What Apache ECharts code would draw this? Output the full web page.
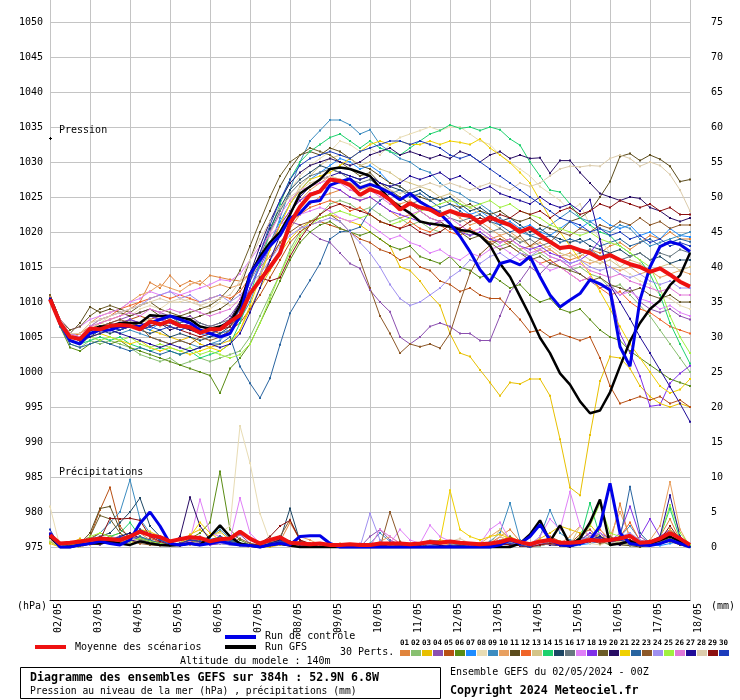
<!DOCTYPE html>
<html><head><meta charset="utf-8">
<script src="https://cdn.jsdelivr.net/npm/echarts/dist/echarts.min.js"></script>
<style>html,body{margin:0;padding:0;background:#fff}#c{width:740px;height:700px}</style>
</head><body><div id="c"></div>
<script>
const dates=['02/05','03/05','04/05','05/05','06/05','07/05','08/05','09/05','10/05','11/05','12/05','13/05','14/05','15/05','16/05','17/05','18/05'];
const hours=['00','06','12','18'];
const pertColors=['#e0843c','#88c070','#e8c000','#8c50b0','#b85014','#5a8c14','#1e8cff','#e8dcb4','#3c8cc0','#e8a060','#5c4c1c','#f06428','#d4c488','#1ed26e','#1c4664','#687880','#e080f8','#8030e8','#6c5c28','#280c64','#f0d000','#2864a0','#8c5828','#a090f0','#a0f040','#e078d8','#200c98','#dcccac','#8c1010','#1c3cbc'];

// Pressure (hPa), 6-hourly, 65 steps
const meanP=[1010.4,1007,1005,1004.7,1006.2,1006.1,1006.6,1006.7,1006.6,1006.1,1007.2,1006.8,1007.3,
1006.6,1006.4,1005.6,1006.1,1006.1,1007.2,1008.1,1011.2,1013.1,1015,1017,1021.2,1023.6,
1025.3,1025.8,1027.5,1027.3,1026.7,1025.3,1026.1,1025.6,1024.6,1023.2,1024.1,1023.5,1023.2,
1022.4,1023,1022.5,1022.3,1021.3,1022.1,1021.5,1021,1020,1020.6,1019.6,1018.6,1017.7,
1017.9,1017.4,1017,1016.2,1016.7,1016,1015.4,1015,1014.3,1014.8,1013.9,1012.9,1012.2];
const ctrlP=[1010.5,1007,1004.5,1004,1005.5,1006,1006,1006.5,1006.5,1006.5,1007,1007.5,1008,
1007.5,1007,1006,1005.5,1005,1005.5,1008,1014,1016,1018,1019.5,1022,1022.7,
1024.3,1024.5,1026.7,1027.2,1027.6,1026.3,1026.8,1026.3,1025.6,1024.6,1025.5,1024.3,1023.5,
1022.6,1021.2,1019.4,1017.2,1014.6,1012.9,1015.5,1015.9,1015.3,1016.5,1013.6,1011,1009.3,
1010.3,1011.2,1013.2,1012.6,1011.7,1003.6,1000.8,1010.3,1015,1017.9,1018.6,1018.2,1017.2];
const gfsP=[1010.5,1007,1005,1004.8,1006,1006.5,1006.5,1007,1007,1007,1008.1,1008,1008,
1007.8,1007.5,1006.5,1006.2,1006.5,1007,1009.5,1014,1016.5,1018.5,1020,1022.5,1025.5,
1026.5,1027.5,1029,1029.2,1029,1028.5,1028,1026.3,1024.6,1023.6,1022.7,1021.5,1021.2,
1021,1020.8,1020.3,1020.1,1019.5,1018.1,1015.5,1013.6,1010.8,1008,1004.9,1002.7,999.8,
998.2,995.8,994.1,994.5,997.1,1000.8,1004.4,1007,1009,1010.2,1012.4,1013.8,1017];

const P01=[1010.8,1007.5,1005.5,1004.5,1006,1007,1007.5,1008,1009,1010,1012.8,1012,1013.8,
1012.3,1013,1012.5,1013.8,1013.5,1013.2,1013,1014,1015,1016.5,1018.5,1020.5,1022.5,
1024,1025,1025.5,1026,1025,1024.5,1025,1024,1023,1022,1022.5,1021.5,1021,
1021.5,1020.5,1020,1020.5,1019.5,1019,1019.5,1018.5,1017.5,1018,1017,1017.5,1016.5,
1016,1016.5,1017.5,1017,1018,1018.5,1017.5,1018.5,1019.5,1019,1020,1019,1019];
const P02=[1010.5,1007,1004,1003.5,1004.5,1004,1004.5,1004,1003.5,1002.5,1002,1001.5,1002,
1001,1001.5,1002,1001.5,1002,1002.5,1003,1005,1008,1011,1014,1017.5,1020,
1021.5,1022.5,1024,1024.5,1024,1023,1023.5,1022.5,1021.5,1022,1021,1021.5,1020.5,
1020,1021,1020.5,1019.5,1020,1019,1018,1018.5,1017.5,1016.5,1017,1016,1015,
1014.5,1015,1014,1013.5,1012,1012.5,1011,1009.5,1008,1006,1004,1002,1000];
const P03=[1010.5,1007.5,1005,1004.5,1005.5,1006,1006.5,1006,1007,1006.5,1006,1005.5,1005,
1004.5,1005,1004,1003.5,1004,1004.5,1006,1009,1012,1014.5,1017,1019,1020.5,
1021.5,1022,1022.5,1022,1021.5,1021,1020,1019,1018,1015,1014.5,1013,1011,
1009.5,1005.5,1002.7,1002.2,1000.3,998.5,996.6,998.5,998.3,999,999,996.6,990.4,
983.5,982.4,991,998.7,1002.2,1002,1000.5,998,996.5,995.5,995,995.5,995];
const P04=[1010.5,1007,1005,1004.5,1006,1006.5,1007,1007.5,1008,1008.5,1009,1008.5,1008,
1007.5,1008,1007,1006.5,1007,1008,1010,1013,1015.5,1018,1020,1021.5,1021,
1020,1019,1018.5,1017,1015.5,1014.8,1011.7,1010,1008.6,1005,1004,1005,1006.5,
1007,1006.5,1005.5,1005.5,1004.5,1004.5,1008,1011.5,1013,1015,1014,1015.5,1016,
1015,1014,1013,1012,1012.5,1011,1012,1010,1009,1008.5,1009,1008,1007.5];
const P05=[1011,1007.5,1005.5,1005,1006,1006.5,1006,1007,1007.5,1008,1007.5,1008,1007,
1006.5,1006,1005.5,1006,1005.5,1006,1007,1009,1011,1013.5,1016,1018.5,1020,
1021,1021.5,1021,1020.5,1020,1019,1018.5,1017.5,1017,1016,1016.5,1015,1014.5,
1013,1012.5,1011.5,1012,1011,1010.5,1010.5,1009,1007.5,1005.7,1006,1005,1005.5,
1005,1004.5,1005,1002,998,995.5,996,996.5,996,996.5,995.5,996,995];
const P06=[1010.5,1006.5,1003.5,1003,1004,1004.5,1004,1004.5,1003.5,1003,1002.5,1002,1001.5,
1001,1000.5,1000,999.5,997,1000.5,1002,1004,1007,1010,1013,1016,1018.5,
1020,1021,1021.5,1020.5,1020,1019.5,1020,1019,1018,1017.5,1018,1016.5,1016,
1015.5,1016.5,1015,1014.5,1013.5,1014,1013,1012,1012.5,1011,1010,1010.5,1009,
1008.5,1009,1007.5,1006,1005,1004.5,1003,1002,1001,1000,999,998.5,998];
const P07=[1010.5,1007,1005,1004.5,1005.5,1006,1006.5,1006,1007,1006.5,1006,1007,1006.5,
1006,1006.5,1005.5,1005,1005.5,1006,1008,1012,1015.5,1018.5,1021.5,1024,1026,
1027.5,1028.5,1029.5,1030.5,1030,1029,1029.5,1028.5,1027,1026.5,1025.5,1026,1025,
1024.5,1025,1023.5,1022.5,1023,1022,1021,1021.5,1020.5,1021,1020,1019.5,1020.5,
1021.5,1020.5,1021.5,1022,1021,1020.5,1021,1019.5,1020,1019,1020.5,1019.5,1019.3];
const P08=[1010.5,1007.5,1005,1005,1006.5,1007,1008,1008.5,1008,1009,1009.5,1009,1010,
1010,1010.5,1009.5,1009,1010,1009.5,1010,1013,1016,1019.5,1023,1026,1028,
1029.5,1030.5,1031.5,1033,1032.5,1031.5,1032,1031,1032.5,1033.5,1034,1034.5,1035,
1034.5,1035,1035,1034,1033,1032.5,1031,1030,1029,1028,1026.5,1025.5,1024.5,
1023,1024,1021,1019,1017,1015,1014,1013,1012.5,1011,1010.5,1009.5,1009];
const P09=[1010.5,1007,1005,1004.5,1005,1005.5,1006,1005.5,1006,1005.5,1005,1004.5,1004,
1004.5,1004,1003.5,1004,1004.5,1006,1007.5,1010,1014,1018,1022,1026,1030,
1033,1034.5,1036,1036,1035.3,1034,1034.6,1032.5,1031.5,1030.5,1030,1029,1028.5,
1027,1026,1025.5,1024.5,1024,1023,1022,1021,1020,1019.5,1020,1021,1022,
1023,1022,1021.5,1020.5,1020,1021,1020.5,1019,1018,1018.5,1019,1019.5,1020];
const P10=[1010.5,1007.5,1005,1005.5,1007,1008,1008.5,1009,1010,1011,1011.5,1012.5,1012,
1011.5,1012.5,1013,1012,1012.5,1012,1012.5,1014,1016,1018.5,1021,1023,1024.5,
1026,1027,1028,1027.5,1027,1026,1026.5,1025.5,1024.5,1024,1024.5,1023.5,1023,
1022.5,1023,1022,1021,1021.5,1020.5,1019.5,1020,1019,1018,1018.5,1017.5,1016.5,
1017,1016,1015.5,1016,1015,1014.5,1015,1014,1014.5,1013.5,1014,1014.5,1014];
const P11=[1011,1007.5,1005.5,1007,1009.3,1008.5,1009,1008.5,1008,1008.5,1009,1008,1007.5,
1007,1007.5,1008,1008.5,1009,1010,1012,1016,1020,1023,1026.5,1029,1031,
1031.5,1031,1032,1031.5,1030.5,1029.5,1029,1028,1027,1026.5,1025.5,1025,1024.5,
1025,1024,1023.5,1024,1023,1022.5,1023,1022,1021.5,1022,1021,1020.5,1020,
1021.5,1022,1023,1025,1027.2,1030.8,1031.2,1030.2,1031,1030.4,1029.4,1027.2,1027.5];
const P12=[1010.5,1007,1005,1005.5,1006.5,1007.5,1008,1009,1009.5,1010,1010.5,1011,1010.5,
1011,1010.5,1010,1010.5,1011,1010.5,1011.5,1013.5,1016,1018,1020,1021.5,1022.5,
1023.5,1024,1024.5,1024,1023,1023.5,1022.5,1021.5,1021,1020.5,1021.5,1020.5,1020,
1021,1020,1019.5,1020.5,1019.5,1018.5,1019,1018,1017,1016.5,1015.5,1016,1015,
1014,1013,1013.5,1012,1011,1011.5,1010,1009,1008.5,1007.5,1006.5,1006,1005.5];
const P13=[1010.5,1007.5,1005.5,1005,1006,1007,1006.5,1007,1006.5,1007,1007.5,1006.5,1007,
1006.5,1007,1006,1005.5,1006,1006.5,1008,1011,1014,1017.5,1021,1024,1026.5,
1028,1029.5,1030.5,1031,1030.5,1029.5,1030,1029,1028.5,1027.5,1027,1026.5,1026,
1025,1025.5,1024.5,1023.5,1022.5,1021.5,1020.5,1019.5,1019,1018,1017.5,1018,1017,
1016.5,1017,1016,1015.5,1016,1015,1016,1015.5,1014.5,1015,1015.5,1014.5,1015];
const P14=[1010.5,1007,1004.5,1004,1004.5,1005,1004.5,1005,1004,1003.5,1003,1003.5,1003,
1002.5,1003,1002,1002.5,1003,1004,1007,1011,1015.5,1020,1024,1027.5,1030,
1031.5,1032.5,1033.5,1034,1033,1032,1033,1032,1031.5,1031,1032,1033,1034,
1034.5,1035.3,1034.8,1035,1034.5,1035,1034.6,1033.3,1032.4,1030,1028,1026,1025.7,
1024,1022,1021,1020,1019.5,1018,1017,1016,1014,1011,1007,1004,1001.2];
const P15=[1010.5,1007,1005,1004.5,1005,1006,1005.5,1006,1006.5,1006,1005.5,1006,1005,
1005.5,1005,1004.5,1005,1005.5,1006.5,1009,1013,1017,1020.5,1023.5,1026,1027.5,
1028.5,1029.5,1029,1028.5,1028,1027.5,1028,1027,1026.5,1026,1025.5,1026,1025,
1024.5,1025,1024,1023,1023.5,1022.5,1021.5,1022,1021,1020,1020.5,1019.5,1019,
1018.5,1019,1018,1017.5,1017,1017.5,1016.5,1017,1016,1016.5,1015.5,1016,1016];
const P16=[1010.5,1007.5,1005,1004.5,1006,1006.5,1007,1006.5,1007.5,1007,1008,1007.5,1008,
1007,1007.5,1007,1006.5,1007,1007.5,1009.5,1013,1016.5,1020,1023,1025.5,1027,
1028,1028.5,1029,1028.5,1027.5,1027,1027.5,1026.5,1025.5,1025,1024,1024.5,1023.5,
1023,1022,1021.5,1022,1021,1020,1020.5,1019.5,1018.5,1019,1018,1018.5,1017.5,
1018,1017,1017.5,1016.5,1017,1016,1016.5,1017,1016,1017,1016.5,1017.5,1017];
const P17=[1010.5,1007.5,1006,1006.5,1007.5,1008,1008.5,1009,1010,1010.5,1011.5,1011,1011.5,
1011,1011.5,1012,1012.5,1013.2,1013,1014,1016,1018,1019.5,1021,1022,1022.5,
1023,1023.5,1023,1022,1021.5,1022,1021,1020,1019,1019.5,1018.5,1018,1017,
1017.5,1016.5,1016,1017,1016.5,1017.5,1018,1017,1016,1016.5,1015.5,1014.5,1015,
1014,1013,1013.5,1012.5,1012,1011,1011.5,1010.5,1010,1009,1009.5,1008.5,1008];
const P18=[1010.5,1007,1005,1004.5,1005.5,1006,1006.5,1007,1007.5,1007,1008,1007.5,1007,
1006.5,1007,1006.5,1006,1006.5,1007,1009,1012,1015,1018,1021,1023,1024.5,
1025.5,1026,1026.5,1026,1025,1024.5,1025,1024,1023,1022.5,1022,1021.5,1021,
1021.5,1020.5,1020,1019.5,1020,1019,1018.5,1019,1018,1017.5,1018,1017,1016.5,
1015.5,1016,1017,1018.9,1012.4,1005.5,1002.7,999.4,995.1,995.3,998.4,999.8,1000.9];
const P19=[1011,1007.5,1006,1006.5,1008,1009,1009.5,1009,1008.5,1009.5,1010,1009,1008.5,
1008,1008.5,1009,1009.5,1010.5,1012,1014.5,1018,1021.5,1025,1028,1030,1031,
1032,1031.5,1031,1030,1029,1028,1028.5,1027,1026,1025,1024,1023,1022,
1021.5,1020.5,1020,1019,1019.5,1018.5,1017.5,1018,1017,1016,1016.5,1015.5,1015,
1014.5,1014,1013,1013.5,1012.5,1012,1011.5,1012,1011,1010.5,1011,1010,1010];
const P20=[1010.5,1007,1005,1004.5,1005.5,1006,1006.5,1006,1006.5,1007,1006.5,1007,1006,
1006.5,1006,1005.5,1006,1006.5,1007.5,1010,1014,1018,1021.5,1024.5,1027,1028.5,
1029.5,1030,1030.5,1030,1029.5,1030,1031,1031.5,1032,1031,1031.5,1031,1030.5,
1031,1030.5,1031.5,1031,1030,1031,1031.5,1030.5,1031,1030.5,1030.6,1028.4,1030.2,
1030.2,1028.5,1027,1025.5,1025,1024.5,1025,1024.8,1023.5,1023,1022,1021.5,1022];
const P21=[1010.5,1007,1005,1004.5,1005,1005.5,1005,1004.5,1004,1004.5,1003.5,1003,1003.5,
1003,1002.5,1003,1003.5,1003,1004,1006,1009.5,1013.5,1017.5,1021,1024,1026,
1027.5,1028,1028.5,1029.5,1030.5,1031.5,1032.5,1033,1032.5,1033,1032.5,1032.5,1033,
1032.5,1033,1032.8,1032.5,1033.3,1032,1031,1029.9,1028.5,1027,1024.5,1022,1020,
1018,1016,1014,1011.5,1009,1006.5,1004,1002,1000,998,997,997.5,999];
const P22=[1010.5,1006.5,1004,1003.5,1004,1004.5,1004,1003.5,1003,1003.5,1003,1002.5,1003,
1002.5,1003,1003.5,1004,1004,1005,1000.8,998.4,996.3,999.1,1003.9,1008.4,1010.8,
1013.1,1015.5,1019,1020,1020.2,1020.7,1023.1,1024.5,1025.5,1026,1025,1025.5,1024.5,
1023.5,1024,1023,1022,1022.5,1021.5,1021,1020,1020.5,1019.5,1019,1019.5,1018.5,
1019,1018.5,1019,1018,1018.5,1019,1018,1018.5,1019,1018,1018.5,1019,1018.6];
const P23=[1010.5,1007,1005,1005,1006,1006.5,1007,1007.5,1007,1006.5,1005,1004.5,1004,
1004.5,1004,1005,1004.5,1005,1006,1008,1011,1013,1016,1018.5,1020,1021,
1021.5,1022,1022.5,1021.5,1020,1016,1012,1008,1005.5,1002.7,1004,1003.6,1004,
1003.4,1005.5,1010,1014.1,1016.8,1018.1,1019,1018.5,1019.5,1018,1019,1018.5,1020,
1019.5,1020.5,1020,1021,1020.5,1021.5,1021,1022,1021,1021.5,1020.5,1021,1021];
const P24=[1010.5,1007.5,1005.5,1005,1006.5,1007.5,1008,1008.5,1009,1009.5,1010.5,1011,1011.5,
1010.5,1011,1010,1010.5,1011,1010,1011,1012.5,1014,1016,1018,1019.5,1020.5,
1021,1021.5,1022,1021.5,1020,1018.5,1017,1015,1012.5,1010.5,1009.5,1010,1011,
1012,1013.5,1014.5,1016,1015.5,1016.5,1017,1016,1017,1016.5,1017.5,1016.5,1016,
1015.5,1016,1015,1014.5,1015,1014,1013.5,1014,1013,1012.5,1013,1012,1012];
const P25=[1010.5,1007,1004.5,1004,1005,1004.5,1005,1004.5,1005,1004,1003.5,1004,1003.5,
1003,1003.5,1002.5,1003,1002.5,1002,1002.5,1004,1007,1010.5,1014,1017,1019.5,
1021,1022,1022.5,1023,1022.5,1022,1022.5,1021.5,1021,1021.5,1022,1023,1023.5,
1024,1024.5,1024,1023.5,1024,1024.5,1023.5,1024,1023,1022.5,1022,1021,1020.5,
1020,1019.5,1020,1019,1018.5,1018,1017,1016,1015,1012,1008,1005,1002.7];
const P26=[1010.5,1007.5,1005.5,1005,1006.5,1007,1007.5,1008,1008.5,1008,1009,1008.5,1009,
1008.5,1009,1008.5,1008,1008.5,1009,1010.5,1013.5,1017,1020,1022.5,1024.5,1026,
1026.5,1027,1027.5,1027,1026,1025.5,1026,1025,1024,1023.5,1022.5,1023,1022,
1021.5,1022,1021,1020,1020.5,1019.5,1018.5,1019,1018,1017,1017.5,1016.5,1016,
1015,1015.5,1014.5,1014,1013.5,1014,1013,1012.5,1012,1011.5,1012,1011,1011];
const P27=[1010.5,1007,1005,1004.5,1005,1005.5,1006,1005.5,1005,1004.5,1004,1003.5,1004,
1003.5,1003,1003.5,1004,1003.5,1004,1005.5,1008.5,1012,1016,1019.5,1022.5,1025,
1026.5,1027.5,1028,1028.5,1028,1027.5,1028,1027,1026.5,1027,1028,1027.5,1028,
1028.5,1027.5,1028,1027,1026,1026.5,1025.5,1025,1024.5,1024,1025,1024,1023.5,
1024,1023,1024.6,1019,1012.4,1010,1007.6,1005,1002.7,1000.3,997.9,995.5,992.9];
const P28=[1010.5,1007.5,1005.5,1005.5,1007,1007.5,1008,1008.5,1009,1009.5,1010,1010.5,1010,
1010.5,1010,1009.5,1010,1010.5,1011,1013,1016,1019,1021.5,1023.5,1025,1026,
1027,1027.5,1028,1027.5,1027,1026.5,1027,1026.5,1026,1025.5,1026,1026.5,1027,
1026.5,1027,1026.5,1026,1026.5,1027,1026.5,1026,1027,1026.5,1027,1028,1029,
1029.4,1029.3,1029.5,1029.4,1030.5,1031,1030.5,1029.4,1030,1029.5,1028.2,1026,1023];
const P29=[1010.5,1007,1005,1004.5,1005.5,1006,1006.5,1007,1006.5,1006,1006.5,1007,1006.5,
1006,1005.5,1005,1005.5,1006,1006.5,1008,1011,1013.5,1013,1013.5,1016.5,1019,
1021,1022.5,1023.5,1024,1023.5,1023,1022.5,1021.5,1021,1020.5,1021,1020,1019.5,
1020,1021,1020.5,1021.5,1022,1021.5,1022.5,1022,1023,1022.5,1023,1022,1023,
1023.5,1022.5,1023,1024,1023.5,1024.5,1024,1023.5,1024,1023,1023.5,1022.5,1022.5];
const P30=[1010.5,1007,1005,1004.5,1005.5,1006,1006.5,1006,1006.5,1006,1006.5,1006,1006.5,
1006,1006.5,1006,1005.5,1006,1007,1009,1013,1017,1021,1024.5,1027.5,1029.5,
1030.5,1031,1031.5,1031,1030.5,1031.5,1032,1032.5,1033,1033,1032.5,1033,1032.5,
1032,1031,1030.5,1031,1030,1029,1028,1027,1026,1025,1024,1023,1022,
1021.5,1021,1020,1020.5,1019.5,1020,1019,1019.5,1018.5,1019,1018,1018.5,1018];

// Precipitation (mm / 6h), 65 steps
const meanR=[1.7,0.5,0.6,0.8,1.0,1.2,1.1,1.0,1.5,2.2,1.7,1.4,0.8,
1.1,1.4,1.3,0.8,1.1,1.2,2.2,1.2,0.5,1.0,1.4,0.6,0.5,
0.4,0.5,0.3,0.3,0.4,0.3,0.3,0.5,0.5,0.5,0.4,0.5,0.7,
0.6,0.8,0.6,0.5,0.4,0.5,0.7,1.1,0.7,0.4,0.8,1.0,0.6,
0.6,0.7,1.0,0.9,1.0,1.2,1.6,0.6,0.7,1.2,2.0,1.2,0.3];
const ctrlR=[2,0,0,0.3,0.5,0.8,0.5,0.3,1,3.4,5,3,0.5,
0.3,0.5,0.3,0.5,0.8,0.5,0.3,0.2,0,0.3,0.5,0.3,1.5,
1.6,1.6,0.5,0,0,0,0,0,0,0,0,0,0,
0,0,0,0,0,0,0.3,1,0.5,1.5,3.2,1,0.3,
0.2,0.5,1,3,9.1,2,0.5,0.3,0.2,0.5,1,0.5,0];
const gfsR=[1.5,0,0,0.3,0.5,0.5,0.8,0.5,0.3,0.8,0.5,0.3,0.2,
0.3,0.5,0.3,1.5,3.1,1.5,0.5,0.2,0,0.3,0.5,0.2,0,
0,0,0,0,0,0,0,0,0,0,0,0,0,
0,0,0,0,0,0,0,0,0.5,1.8,3.8,0.8,3.1,
0.3,1.2,3.5,6.8,0.3,0.5,0.8,0.3,0.5,1,1.5,0.8,0];
const R01=[0.8,0,0.2,0,0.5,1,0.8,1.5,1.2,2,1,0.5,0.2,0.5,1,0.8,0.3,1.5,1,0.5,0.2,0,0.3,0.8,3.5,1,0.2,0,0,0.5,0,0,0,0.2,0,0,0,0.3,0.5,0.2,0,0,0,0.3,0,1.5,2.5,0.8,0,0.3,0.5,0.2,0,0.5,1.5,2,0.5,6.2,1,0.5,0.3,1.5,4,1,0];
const R02=[1.5,0,0,0.3,0.8,0.5,1,0.5,1.8,2.5,1.5,1.2,0.3,0.6,1.5,0.8,0.5,1.2,0.8,0.5,0.3,0.2,0.8,1.5,0.5,0.3,0,0,0,0.2,0,0,0,0,0,0.2,0,0,0,0,0,0,0,0,0,0.5,1.2,0.3,0,0.2,0.8,0.3,0.2,0.8,2,1.5,0.5,1,0.8,0.3,0.5,1,2.5,1.2,0.2];
const R03=[0.5,0,0.5,1.2,0.3,0.8,1.5,2,0.5,1,0.5,0.8,0.2,0.5,1.8,2.5,1.5,2.2,1,0.5,0.2,0,0,0.3,0.2,0,0,0,0,0,0,0,0.3,0,0.2,0,0,0,0.5,1,0.8,0.5,0.3,0.6,0.5,1,1.5,0.8,0.5,1.2,2,3,2.5,2,3.2,1.5,0.8,1,0.5,0.3,0.2,0.8,1.5,0.8,0.2];
const R04=[2,0,0.3,0,0.5,0.3,1,0.8,1.2,1.5,0.5,1,0.2,0.3,0.8,1.5,0.5,1,0.5,1.8,0.5,0.2,0.8,0.5,0.3,0.2,0,0,0,0,0,0,1.5,2.5,1,0.3,0,0.5,0.8,0.3,0,0.5,0.2,0,0,0.5,1,0.5,0.2,0.3,1.2,0.5,0.3,0.8,1,2,1.2,0.8,0.5,1.5,0.5,0.3,1.2,0.5,0];
const R05=[1.2,0,0,0.5,1.5,5.3,8.5,3,1,0.5,1.2,0.8,0.3,0.2,0.5,1,0.3,0.8,0.5,0.3,0,0,0.5,1.2,0.5,0.8,0.3,0,0,0,0,0,0,0.5,0,0,0,0,0,0.2,0,0,0,0,0.5,1,0.8,0.3,0,0.5,1.5,0.8,0.5,1.8,2.5,1,0.8,1.2,0.5,0.3,0.2,0.5,1,0.3,0];
const R06=[1,0,0.2,0,0.8,1,1.5,0.5,1,2.5,1.8,1,0.5,0.3,1.2,2,3.5,10.8,2.5,1,0.3,0,0.5,0.8,0.3,0.2,0,0,0,0,0,0,0,0,0,0.2,0,0,0,0,0,0.3,0,0,0.2,0.8,1.5,0.3,0,0.5,0.8,0.3,0.2,1.5,1,0.8,0.3,0.5,0.3,0.2,0.5,0.8,1.2,0.5,0];
const R07=[1.5,0,0,0.2,0.5,0.8,1,1.5,2,1.2,0.8,0.5,0.2,0.3,0.8,0.5,1.2,0.8,0.5,0.3,0.2,0,0.2,0.8,0.5,0.2,0,0,0,0,0,0,0,0,0,0,0,0.2,0,0,0,0,0,0,0,0.5,0.8,0.2,0,0.3,0.5,0.2,0,0.3,0.5,0.8,0.5,0.3,1,0.5,0.3,0.2,0.5,0.8,0];
const R08=[5.8,0,0,0.3,0.5,0.8,1.5,1,0.5,1.5,1,0.8,0.3,0.5,0.8,1.2,1.5,2,3,17.3,12,4.8,0.8,0.5,0.3,0.2,0,0,0,0,0,0,0,0,0,0,0,0,0,0,0,0,0,0,0,0.3,0.5,0.2,0,0.2,0.5,0.3,0.5,1,0.5,0.3,0.8,0.5,0.3,0.2,0.3,0.5,1,0.3,0];
const R09=[1.2,0,0,0.5,1,2,3.5,5,9.6,4,2,1,0.5,0.3,1,0.8,1.5,2.5,1.2,0.5,0.3,0,0.5,1.5,0.8,0.3,0.2,0,0,0,0,0,0.5,2,0.8,0.2,0,0.5,1,0.8,0.5,0.3,0,0.2,0.8,2,6.3,1,0.3,1.5,5.3,2,1,0.8,1.5,2,1,1.5,3,1,0.5,1,2,1.5,0];
const R10=[0.8,0,0.5,0.8,0.3,0.5,1,0.8,1.5,0.8,0.5,0.3,0.2,0.5,0.3,0.8,0.5,1,0.8,0.3,0.2,0,0.3,0.8,0.5,1.5,1,0.3,0,0,0,0.5,0,0.8,1.5,0.5,0,0,0.2,0.5,0.3,0,0,0.5,1.5,2.5,1.2,0.5,0.3,0.8,1,0.5,1.5,3,1.2,0.8,1.5,5,1.5,0.5,1,3,9.3,2.5,0];
const R11=[1.5,0,0.3,0.5,2,5.5,5.8,2.5,1.5,1,0.5,0.8,0.3,0.2,0.5,1,0.3,0.5,0.8,0.5,0.2,0,0.5,1,0.5,0.2,0,0,0,0,0,0,0,0.3,0,0,0,0.2,0,0,0.3,0,0,0,0.2,0.5,0.8,0.3,0,0.3,0.5,0.2,0,0.5,1,0.8,0.5,0.3,0.2,0,0.3,0.5,0.8,0.3,0];
const R12=[1,0,0,0.3,0.8,1.2,1,0.8,1.5,2.5,1.5,0.5,0.3,0.5,0.8,0.5,1,0.8,0.5,0.3,0,0,0.3,0.5,0.2,0.8,0.5,0,0,0,0,0,0,0.2,0.5,0,0,0,0,0,0,0,0,0.3,0.5,1.5,0.8,0.2,0,0.3,0.5,0.3,0.2,0.8,1.5,2.5,1,1.5,3.5,0.8,0.5,1,1.5,0.5,0];
const R13=[0.8,0,0.2,0,0.5,0.8,1.2,0.5,1,1.2,0.8,0.5,0.2,0.3,0.5,0.8,1,0.5,0.3,0.2,0,0,0.2,0.5,0.3,0.2,0,0,0,0,0,0,0,0,0,0,0,0,0,0,0,0,0,0,0.3,2.5,1,0.3,0,0.2,0.5,0.3,0.2,3,1.5,0.8,0.5,0.8,1.5,0.5,0.3,0.8,2,0.8,0];
const R14=[1.2,0,0,0.3,0.8,0.5,1.5,2,3.5,1.5,0.8,0.5,0.3,0.5,1,0.8,0.5,1.2,0.8,0.5,0.2,0,0.3,0.5,0.3,0.2,0,0,0,0,0,0,0,0,0,0,0,0,0,0,0,0,0,0,0,0.3,0.5,0.2,0,0.2,0.5,0.3,0.5,1,6.3,1.5,0.8,1,0.5,0.3,0.5,1.5,5.5,1.2,0];
const R15=[1.5,0,0,0.5,1,1.5,2,3.5,5,7,3,1.5,0.5,0.3,1,0.8,0.5,1.5,1,0.5,0.3,0.2,0.5,1,5.5,0.8,0.3,0,0,0,0,0,0,0.2,0,0,0,0,0,0,0,0,0,0,0.2,0.5,0.8,0.3,0,0.5,0.8,0.5,0.3,0.8,1,1.5,0.8,1,0.5,0.3,0.5,1,2,1,0];
const R16=[1,0,0,0.2,0.5,1,0.8,1.2,1.5,1,0.8,0.5,0.2,0.3,0.5,0.3,0.8,0.5,0.3,0.2,0,0,0.2,0.5,0.3,0.2,0,0,0,0,0,0,0,0,0,0,0.3,0,0.5,0.2,0,0,0,0.2,0.5,1,0.5,0.2,0,0.3,0.5,0.3,0.2,0.5,0.8,1,0.5,0.8,0.3,0.2,0.3,0.5,1,0.5,0];
const R17=[1.2,0,0,0.5,0.8,0.5,1,1.5,1.2,2,1.5,0.8,0.3,0.5,1,6.8,2,1.5,1,7,2,0.5,0.3,0.8,0.5,0.3,0,0,0,0,0,0.5,0.2,0.3,0.5,2.5,1,0.5,3.1,1.5,0.8,0.5,0.3,0.5,2.5,3.5,1,0.5,0.3,1.5,4,2.5,7.9,3,1.5,2,1,1.2,0.8,0.5,0.3,1,2,0.8,0];
const R18=[0.8,0,0,0.3,0.5,0.8,1,0.5,1.2,0.8,0.5,0.3,0.2,0.3,0.5,0.8,0.3,0.5,0.8,0.3,0.2,0,0.2,0.5,0.3,0.2,0,0,0,0,0,0,0,0,0,0,0,0,0,0,0,0,0,0,0,0.5,0.3,0.2,0,0.3,0.5,0.3,0.5,1,2,1,0.8,2,5.8,1.5,4,1.5,2.5,1,0.2];
const R19=[1.2,0,0.2,0.5,1.5,4.5,4,2,1,0.8,0.5,0.3,0.2,0.3,0.8,1.2,0.5,1,0.5,0.3,0,0,0.3,0.8,0.5,0.2,0,0,0,0,0,0,0,0.2,0,0,0,0,0,0,0.3,0.2,0,0,0.3,0.8,0.5,0.2,0,0.5,0.8,0.3,0.2,0.5,1,0.8,1.5,0.8,0.5,0.3,0.2,0.5,1,0.5,0];
const R20=[1.8,0,0,0.3,0.5,0.8,1,1.5,2,1.2,0.8,0.5,0.3,1.5,7.1,3,1,1.5,0.8,0.5,0.3,0,0.5,1,0.8,0.5,0.3,0,0,0,0,0,0,0.3,0,0,0,0,0.5,0.3,0,0,0,0,0.3,0.8,1,0.5,0.2,0.5,0.3,0.2,0,0.5,0.8,1.5,0.5,0.3,0.8,0.5,0.3,1,1.5,0.5,0];
const R21=[0.8,0,0.3,0.5,0.8,1.2,1,0.8,1.5,2.5,2.2,1.5,0.5,0.3,1.5,3.5,2,1,0.8,0.3,0,0,0.2,0.5,0.3,0.2,0,0,0,0,0,0,0,0,0,0,0,0,0.5,0.8,8.1,2.5,1.5,1,1.5,1.8,1.2,0.8,0.5,0.5,1,0.8,0.5,0.8,1.2,1.5,1,0.8,0.5,0.3,0.2,0.5,2.5,1,0.2];
const R22=[1.5,0,0,0.2,0.5,1,1.5,1.2,0.8,1.5,1,0.5,0.3,0.3,0.8,1.2,0.8,1.5,1,0.5,0.3,0.2,0.3,0.5,0.3,0.2,0,0,0,0,0,0,0,0,0,0,0,0,0,0,0,0,0,0,0,0.5,0.8,0.3,0,0.2,0.5,0.2,0.3,0.5,1,1.5,0.8,1.2,8.6,2,0.5,0.8,1.5,0.8,0];
const R23=[1,0,0.3,0.5,1.2,2,1.5,0.8,1,0.5,0.3,0.2,0.2,0.5,0.8,1,0.5,0.8,0.5,1.2,0.5,0.3,0.8,1.5,3.9,1,0.3,0,0,0,0,0,0,0,5,0.8,0,0,0,0,0,0,0,0,0.3,0.8,0.5,0.2,0,0.3,0.5,0.2,0.2,0.5,1,0.5,0.8,1.5,0.8,0.3,0.5,0.8,1.5,0.5,0];
const R24=[1,0,0,0.3,0.5,0.8,0.5,1,1.5,0.8,0.5,0.3,0.2,0.3,0.5,0.8,1,0.5,0.3,0.2,0,0,0.3,0.5,0.3,0.2,0,0,0,0,0,0,4.8,1,0,0,0,0.5,0.3,0,0,0,0,0,0.5,1,0.8,0.3,0,0.3,0.5,0.3,0.5,1,1.5,1,0.5,1.5,2,1,0.5,1,2,1,0];
const R25=[0.8,0,0.5,0.3,1.5,2,1.5,1,0.8,1.2,0.8,0.5,0.3,0.3,0.5,1,0.8,1.2,0.8,0.5,0.2,0,0.3,0.5,0.3,0.2,0,0,0,0,0,0,0,0,0,0,0,0,0,0,0,0,0,0,0,0.5,0.8,0.3,0,0.5,1,0.5,0.3,1.2,3,6.2,2,1.5,1,0.5,0.8,1.5,6,2,0.3];
const R26=[1,0,0,0.3,0.8,1,1.2,1.5,1,0.8,0.5,0.3,0.2,0.5,0.8,1.2,0.8,1,0.5,0.3,0,0,0.3,0.5,0.3,0.2,0,0,0,0,0,0,0,2.5,1.5,0.5,0,0,0,0,0.3,0,0,0,0.3,0.8,0.5,0.3,0,0.5,0.8,0.3,0.5,0.8,1,1.2,0.8,1,0.5,0.3,0.5,1,1.5,0.5,0];
const R27=[1.8,0,0,0.3,0.5,0.8,1,1.2,1,0.8,0.5,0.3,0.2,0.3,0.5,0.8,0.5,1,0.5,0.3,0.2,0,0.3,0.8,0.5,0.3,0,0,0,0,0,0,0,0,0,0,0,0,0,0,0,0,0,0.3,0,0.5,0.3,0.2,0,0.3,0.5,0.3,0.2,0.5,1,1.5,0.8,1,1.5,0.5,0.8,1.5,7.4,1.5,0];
const R28=[1,0,0,0.3,0.5,0.8,1,0.8,1.2,0.8,0.5,0.3,0.2,0.3,0.5,0.8,0.5,1,0.5,0.3,0,0,0.3,0.5,0.3,0.2,0,0,0,0,0,0,0,0,0,0,0,0,1,0.5,0.8,1.2,0.5,0.3,0,1.5,0.8,0.3,0,0.2,0.5,0.3,0.2,0.5,0.8,1,0.5,0.8,0.5,0.3,0.2,0.5,1,0.5,0];
const R29=[1.5,0,0,0.3,0.5,1,4.1,4,4.1,3.8,1.5,0.8,0.3,0.5,1,0.8,0.5,1,0.5,0.3,0.2,0.5,1.5,3,3.8,1,0.5,0,0,0,0,0,0,0.3,0,0,0,0,0,0,0,0,0,0,0.2,0.5,0.3,0.2,0,0.3,0.5,0.3,0.2,0.5,0.8,1,0.8,1.5,1,0.5,0.3,1,3,1,0];
const R30=[2.5,0,0,0.3,0.5,0.8,1,1.5,1.2,2.5,1.8,1,0.3,0.5,1,0.8,0.5,1,0.8,0.5,0.3,0,0.5,0.8,0.5,0.3,0.2,0,0,0,0,0,0,0.3,0,0,0,0,0,0,0.2,0,0,0,0.3,0.8,0.5,0.3,0,0.8,1,0.5,0.3,0.8,1,1.2,0.8,1,0.5,0.3,0.5,1,2,1,0];

const pertP=[P01,P02,P03,P04,P05,P06,P07,P08,P09,P10,P11,P12,P13,P14,P15,P16,P17,P18,P19,P20,P21,P22,P23,P24,P25,P26,P27,P28,P29,P30];
const pertR=[R01,R02,R03,R04,R05,R06,R07,R08,R09,R10,R11,R12,R13,R14,R15,R16,R17,R18,R19,R20,R21,R22,R23,R24,R25,R26,R27,R28,R29,R30];

const steps=[];
dates.forEach((d,i)=>hours.forEach(h=>{ if(i<dates.length-1||h==='00') steps.push(d+' '+h+'Z'); }));

const FONT='DejaVu Sans Mono';
function mk(data,color,yi,width,symSize,z){
  return {type:'line',data:data,xAxisIndex:0,yAxisIndex:yi,clip:false,silent:true,z:z,
    lineStyle:{width:width,color:color},itemStyle:{color:color},
    symbol:'rect',symbolSize:symSize,showSymbol:symSize>0,showAllSymbol:true,animation:false};
}
const series=[];
pertR.forEach((a,i)=>series.push(mk(a,pertColors[i],1,1,2,2)));
pertP.forEach((a,i)=>series.push(mk(a,pertColors[i],0,1,2,3)));
series.push(mk(gfsR,'#000000',1,2.5,0,5));
series.push(mk(ctrlR,'#0000e8',1,3,0,6));
series.push(mk(meanR,'#ee1111',1,4,0,7));
series.push(mk(gfsP,'#000000',0,2.5,0,5));
series.push(mk(ctrlP,'#0000e8',0,3,0,6));
series.push(mk(meanP,'#ee1111',0,4,0,7));

const txt=(x,y,t,o)=>({type:'text',x:x,y:y,silent:true,z:100,style:Object.assign({text:t,fill:'#000',font:'10px "'+FONT+'"',align:'left',verticalAlign:'middle'},o||{})});
const graphic=[
  {type:'rect',silent:true,z:100,shape:{x:49,y:138,width:3,height:1},style:{fill:'#000'}},
  {type:'rect',silent:true,z:100,shape:{x:50,y:137,width:1,height:3},style:{fill:'#000'}},
  txt(59,130,'Pression'),
  txt(59,472,'Précipitations'),
  txt(17,606,'(hPa)'),
  txt(711,606,'(mm)'),
  {type:'line',silent:true,shape:{x1:35,y1:647,x2:66,y2:647},style:{stroke:'#ee1111',lineWidth:4}},
  txt(75,647,'Moyenne des scénarios'),
  {type:'line',silent:true,shape:{x1:225,y1:637,x2:256,y2:637},style:{stroke:'#0000e8',lineWidth:4}},
  txt(265,636,'Run de contrôle'),
  {type:'line',silent:true,shape:{x1:225,y1:647,x2:256,y2:647},style:{stroke:'#000',lineWidth:4}},
  txt(265,647,'Run GFS'),
  txt(340,652,'30 Perts.'),
  txt(180,661,'Altitude du modele : 140m'),
  {type:'rect',silent:true,shape:{x:20.5,y:667.5,width:420,height:31},style:{fill:'#fff',stroke:'#000',lineWidth:1}},
  txt(30,678,'Diagramme des ensembles GEFS sur 384h : 52.9N 6.8W',{font:'bold 11.6px "'+FONT+'"'}),
  txt(30,691.5,'Pression au niveau de la mer (hPa) , précipitations (mm)',{font:'9.7px "'+FONT+'"'}),
  txt(450,672,'Ensemble GEFS du 02/05/2024 - 00Z'),
  txt(450,691,'Copyright 2024 Meteociel.fr',{font:'bold 11.6px "'+FONT+'"'})
];
pertColors.forEach((c,i)=>{
  const n=(i+1<10?'0':'')+(i+1);
  graphic.push(txt(400+i*11,643,n,{font:'bold 7.5px "'+FONT+'"'}));
  graphic.push({type:'rect',silent:true,shape:{x:400+i*11,y:650,width:10,height:6},style:{fill:c}});
});

const chart=echarts.init(document.getElementById('c'),null,{renderer:'canvas'});
chart.setOption({
  animation:false,
  backgroundColor:'#ffffff',
  grid:[
    {left:50,right:50,top:22,height:525,outerBoundsMode:'none'},
    {left:50,right:50,top:0,height:600,outerBoundsMode:'none'}
  ],
  xAxis:[
    {gridIndex:0,type:'category',boundaryGap:false,data:steps,show:false},
    {gridIndex:1,type:'value',min:0,max:64,interval:4,
      axisLine:{show:true,onZero:false,lineStyle:{color:'#000',width:1}},axisTick:{show:false},
      splitLine:{show:true,lineStyle:{color:'#c4c4c4',width:1}},
      axisLabel:{rotate:90,margin:3,color:'#000',fontFamily:FONT,fontSize:10,verticalAlign:'top',lineHeight:16,
        formatter:v=>dates[Math.round(v/4)]||''}}
  ],
  yAxis:[
    {gridIndex:0,type:'value',min:975,max:1050,interval:5,position:'left',
      axisLine:{show:false},axisTick:{show:false},
      splitLine:{show:true,lineStyle:{color:'#c4c4c4',width:1}},
      axisLabel:{margin:7,color:'#000',fontFamily:FONT,fontSize:10,formatter:v=>String(v)}},
    {gridIndex:0,type:'value',min:0,max:75,interval:5,position:'right',
      axisLine:{show:false},axisTick:{show:false},splitLine:{show:false},
      axisLabel:{margin:21,color:'#000',fontFamily:FONT,fontSize:10,formatter:v=>String(v)}},
    {gridIndex:1,type:'value',min:0,max:1,show:false}
  ],
  series:series,
  graphic:graphic
});
</script></body></html>
